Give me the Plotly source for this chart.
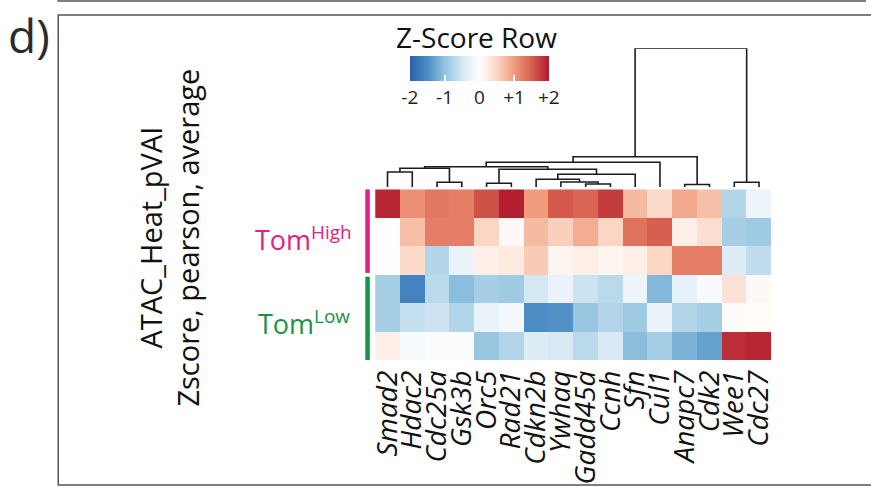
import plotly.graph_objects as go

W, H = 871, 487

# ---- data -------------------------------------------------------------
genes = ["Smad2", "Hdac2", "Cdc25a", "Gsk3b", "Orc5", "Rad21", "Cdkn2b", "Ywhaq",
         "Gadd45a", "Ccnh", "Sfn", "Cul1", "Anapc7", "Cdk2", "Wee1", "Cdc27"]

tom_high_1 = [1.90, 1.10, 1.30, 1.25, 1.60, 1.95, 1.00, 1.55, 1.45, 1.75, 0.75, 0.45, 0.90, 0.70, -0.75, -0.20]
tom_high_2 = [0.02, 0.70, 1.25, 1.25, 0.50, 0.08, 0.75, 0.55, 0.85, 0.50, 1.35, 1.50, 0.20, 0.40, -0.85, -0.90]
tom_high_3 = [0.02, 0.45, -0.75, -0.25, 0.20, 0.25, 0.60, 0.12, 0.20, 0.12, 0.20, 0.50, 1.25, 1.25, -0.40, -0.65]
tom_low_1 = [-0.85, -1.60, -0.70, -1.05, -0.85, -0.90, -0.50, -0.25, -0.55, -0.70, -0.20, -1.10, -0.30, -0.08, 0.35, 0.08]
tom_low_2 = [-0.85, -0.60, -0.55, -0.75, -0.25, -0.15, -1.50, -1.45, -0.95, -0.75, -0.90, -0.25, -0.75, -0.85, 0.05, 0.04]
tom_low_3 = [0.20, -0.08, -0.06, -0.06, -0.95, -0.75, -0.40, -0.45, -0.70, -0.45, -1.05, -0.85, -1.15, -1.30, 1.85, 1.90]

rows = [tom_high_1, tom_high_2, tom_high_3, tom_low_1, tom_low_2, tom_low_3]

# column linkage (pearson, average): (left, right, height); clusters numbered from 16
linkage = [
    (0, 1, 0.108),
    (2, 3, 0.034),
    (4, 5, 0.027),
    (8, 9, 0.022),
    (7, 19, 0.036),
    (6, 20, 0.056),
    (21, 10, 0.092),
    (18, 22, 0.128),
    (16, 17, 0.135),
    (24, 23, 0.146),
    (25, 11, 0.178),
    (12, 13, 0.018),
    (26, 27, 0.218),
    (14, 15, 0.034),
    (28, 29, 1.000),
]

scale_ticks = [-2, -1, 0, 1, 2]
scale_labels = ["-2", "-1", "0", "+1", "+2"]

# ---- helpers ------------------------------------------------------------
def fx(p):
    return p / W


def fy(p):
    return 1 - p / H


FONT = "Open Sans"
PINK = "#E2207F"
GREEN = "#17924A"

colorscale = [
    [0.0, "#2a5fab"],
    [0.125, "#4b8cc4"],
    [0.25, "#92c3df"],
    [0.375, "#d4e7f3"],
    [0.5, "#ffffff"],
    [0.625, "#fbd6c4"],
    [0.75, "#f19b7e"],
    [0.875, "#d6604f"],
    [1.0, "#b0182d"],
]

hm_x0, hm_x1 = 372.7, 775.0
hm_y0, hm_y1 = 189.3, 360.0
cb_cx, cb_len, cb_top, cb_thick = 478.5, 139, 56, 25

fig = go.Figure()

fig.add_trace(go.Heatmap(
    z=rows,
    x=list(range(len(genes))),
    y=list(range(len(rows))),
    colorscale=colorscale,
    zmin=-2, zmax=2,
    xaxis="x", yaxis="y",
    hoverinfo="skip",
    colorbar=dict(
        orientation="h",
        x=fx(cb_cx), xanchor="center",
        y=fy(cb_top), yanchor="top",
        len=cb_len, lenmode="pixels",
        thickness=cb_thick, thicknessmode="pixels",
        outlinewidth=0,
        xpad=0, ypad=0,
        tickvals=scale_ticks, ticktext=scale_labels,
        ticks="inside", ticklen=6, tickwidth=1.5, tickcolor="white",
        tickfont=dict(family=FONT, size=19, color="#222"),
    ),
))

# dendrogram segments from the linkage table
pos = {i: float(i) for i in range(len(genes))}
hgt = {i: 0.0 for i in range(len(genes))}
dx, dy = [], []
for k, (a, b, h) in enumerate(linkage):
    node = len(genes) + k
    dx += [pos[a], pos[a], pos[b], pos[b], None]
    dy += [hgt[a], h, h, hgt[b], None]
    pos[node] = (pos[a] + pos[b]) / 2
    hgt[node] = h

fig.add_trace(go.Scatter(
    x=dx, y=dy, mode="lines", xaxis="x2", yaxis="y2",
    line=dict(color="#1c1c1c", width=1.6), hoverinfo="skip", showlegend=False,
))

shapes = []
# group bars on the left of the rows
shapes.append(dict(type="line", xref="paper", yref="y", x0=fx(365), x1=fx(365),
                   y0=-0.5, y1=2.44, line=dict(color=PINK, width=4.5)))
shapes.append(dict(type="line", xref="paper", yref="y", x0=fx(365), x1=fx(365),
                   y0=2.57, y1=5.5, line=dict(color=GREEN, width=4.5)))
# panel frame
shapes.append(dict(type="line", xref="paper", yref="paper", x0=fx(50), x1=fx(871),
                   y0=fy(1), y1=fy(1), line=dict(color="#555", width=1.5)))
shapes.append(dict(type="rect", xref="paper", yref="paper", x0=fx(51), x1=fx(880),
                   y0=fy(485), y1=fy(15), line=dict(color="#555", width=1.5)))
# upper tick marks on the colour key
cb_left = cb_cx - cb_len / 2
for v in scale_ticks:
    if v == 0:
        continue
    xp = cb_left + (v - scale_ticks[0]) / (scale_ticks[-1] - scale_ticks[0]) * cb_len
    shapes.append(dict(type="line", xref="paper", yref="paper", x0=fx(xp), x1=fx(xp),
                       y0=fy(cb_top), y1=fy(cb_top + 6), line=dict(color="white", width=1.5)))

annotations = [
    dict(text="d)", xref="paper", yref="paper", x=fx(-2), y=fy(35), xanchor="left",
         yanchor="middle", showarrow=False, font=dict(family=FONT, size=46, color="#2b2b2b")),
    dict(text="Z-Score Row", xref="paper", yref="paper", x=fx(476), y=fy(37),
         xanchor="center", yanchor="middle", showarrow=False,
         font=dict(family=FONT, size=28, color="#111")),
    dict(text="ATAC_Heat_pVAI<br>Zscore, pearson, average", xref="paper", yref="paper",
         x=fx(163), y=fy(238), xanchor="center", yanchor="middle", textangle=-90,
         showarrow=False, font=dict(family=FONT, size=29, color="#111")),
    dict(text="Tom<sup>High</sup>", xref="paper", yref="paper", x=fx(300), y=fy(238),
         xanchor="center", yanchor="middle", showarrow=False,
         font=dict(family=FONT, size=27, color=PINK)),
    dict(text="Tom<sup>Low</sup>", xref="paper", yref="paper", x=fx(300), y=fy(322),
         xanchor="center", yanchor="middle", showarrow=False,
         font=dict(family=FONT, size=27, color=GREEN)),
]

fig.update_layout(
    width=W, height=H,
    margin=dict(l=0, r=0, t=0, b=0),
    paper_bgcolor="white", plot_bgcolor="white",
    showlegend=False,
    shapes=shapes,
    annotations=annotations,
    xaxis=dict(domain=[fx(hm_x0), fx(hm_x1)], range=[-0.5, len(genes) - 0.5],
               anchor="y", tickmode="array", tickvals=list(range(len(genes))),
               ticktext=genes, tickangle=-90, ticks="", showgrid=False,
               zeroline=False, showline=False, ticklabelstandoff=4,
               tickfont=dict(family=FONT, size=28, color="#111", style="italic")),
    yaxis=dict(domain=[fy(hm_y1), fy(hm_y0)], range=[len(rows) - 0.5, -0.5],
               anchor="x", visible=False),
    xaxis2=dict(domain=[fx(hm_x0), fx(hm_x1)], range=[-0.5, len(genes) - 0.5],
                anchor="y2", visible=False),
    yaxis2=dict(domain=[fy(187), fy(48.3)], range=[0, 1.0], anchor="x2", visible=False),
)

fig.write_html("out.html")
